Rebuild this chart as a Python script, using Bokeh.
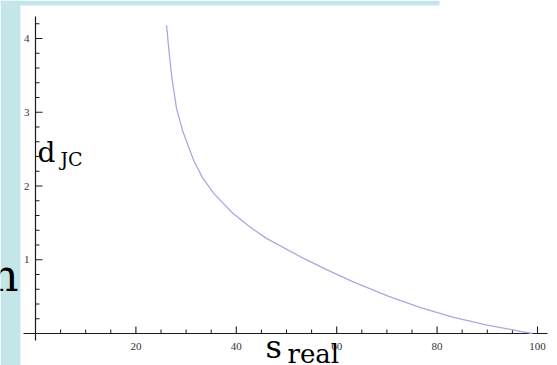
from bokeh.plotting import figure
from bokeh.models import Label, BoxAnnotation, ColumnDataSource
from bokeh.core.properties import value
from bokeh.embed import file_html
from bokeh.resources import INLINE

# ---- data ----
s_real = [26.1, 26.7, 27.2, 28.1, 29.3, 31.5, 33.2, 35.5, 39.3, 42.8, 46.0,
          52.8, 58.2, 63.3, 70.1, 76.7, 83.3, 90.0, 96.6, 99.0]
d_jc = [4.18, 3.76, 3.45, 3.05, 2.75, 2.35, 2.12, 1.90, 1.63, 1.44, 1.29,
        1.04, 0.86, 0.70, 0.51, 0.35, 0.22, 0.115, 0.03, 0.0]

x_major = [20, 40, 60, 80, 100]
x_major_labels = ["20", "40", "60", "80", "100"]
x_minor = [v for v in range(5, 101, 5) if v % 20 != 0]
y_major = [1, 2, 3, 4]
y_major_labels = ["1", "2", "3", "4"]
y_minor = [round(0.2 * i, 1) for i in range(1, 22) if i % 5 != 0]

# ---- geometry (pixel scale of the reference) ----
SX = 5.02    # px per x unit
SY = 73.75   # px per y unit
W, H = 557, 365
X0_PX, Y0_PX = 35, 333   # where the origin sits in the picture
X_START, X_END = -X0_PX / SX, (W - X0_PX) / SX
Y_START, Y_END = (Y0_PX - H) / SY, Y0_PX / SY

BLUE = "#c5e6e9"
AX = "#1a1a1a"

p = figure(width=W, height=H, x_range=(X_START, X_END), y_range=(Y_START, Y_END),
           output_backend="svg", toolbar_location=None, x_axis_type=None,
           y_axis_type=None, min_border=0, outline_line_color=None)
p.grid.visible = False
p.background_fill_color = "white"
p.border_fill_color = "white"

# slide background strips (left column and top band)
p.add_layout(BoxAnnotation(right=-15 / SX, fill_color=BLUE, fill_alpha=1.0,
                           line_color=None, level="underlay"))
p.add_layout(BoxAnnotation(bottom=(Y0_PX - 5) / SY, right=404 / SX, fill_color=BLUE,
                           fill_alpha=1.0, line_color=None, level="underlay"))

# axes lines
p.segment(x0=[-12 / SX], y0=[0], x1=[512 / SX], y1=[0], line_color=AX, line_width=1.2)
p.segment(x0=[0], y0=[-7 / SY], x1=[0], y1=[317 / SY], line_color=AX, line_width=1.2)

# x ticks (pointing up)
p.segment(x0=x_major, y0=[0] * len(x_major), x1=x_major, y1=[7 / SY] * len(x_major),
          line_color=AX, line_width=1.1)
p.segment(x0=x_minor, y0=[0] * len(x_minor), x1=x_minor, y1=[4 / SY] * len(x_minor),
          line_color=AX, line_width=1.0)
# y ticks (pointing right)
p.segment(x0=[0] * len(y_major), y0=y_major, x1=[7 / SX] * len(y_major), y1=y_major,
          line_color=AX, line_width=1.1)
p.segment(x0=[0] * len(y_minor), y0=y_minor, x1=[4 / SX] * len(y_minor), y1=y_minor,
          line_color=AX, line_width=1.0)

# tick labels
p.text(x=x_major, y=[-13 / SY] * len(x_major), text=x_major_labels,
       text_font=value("Liberation Serif"), text_font_size="11px",
       text_align="center", text_baseline="middle", text_color="#333333")
p.text(x=[-6 / SX] * len(y_major), y=y_major, text=y_major_labels,
       text_font=value("Liberation Serif"), text_font_size="11px",
       text_align="right", text_baseline="middle", text_color="#333333")

# the curve
src = ColumnDataSource(dict(s=s_real, d=d_jc))
p.line("s", "d", source=src, line_color="#a9a9de", line_width=1.3)

# axis titles
FONT = "DejaVu Serif"
def lab(x, y, text, size, align="left"):
    p.add_layout(Label(x=x, y=y, text=text, text_font=FONT, text_font_size=size,
                       text_color="black", text_align=align,
                       text_baseline="bottom"))

lab(2 / SX, 164.4 / SY, "d", "28px")
lab(25 / SX, 163.2 / SY, "JC", "19px")
lab(230 / SX, -32.4 / SY, "s", "32px")
lab(252 / SX, -35.5 / SY, "real", "26px")
# clipped slide text at the left
lab(-17 / SX, 32.2 / SY, "n", "44px", align="right")

open("out.html", "w").write(file_html(p, INLINE))
